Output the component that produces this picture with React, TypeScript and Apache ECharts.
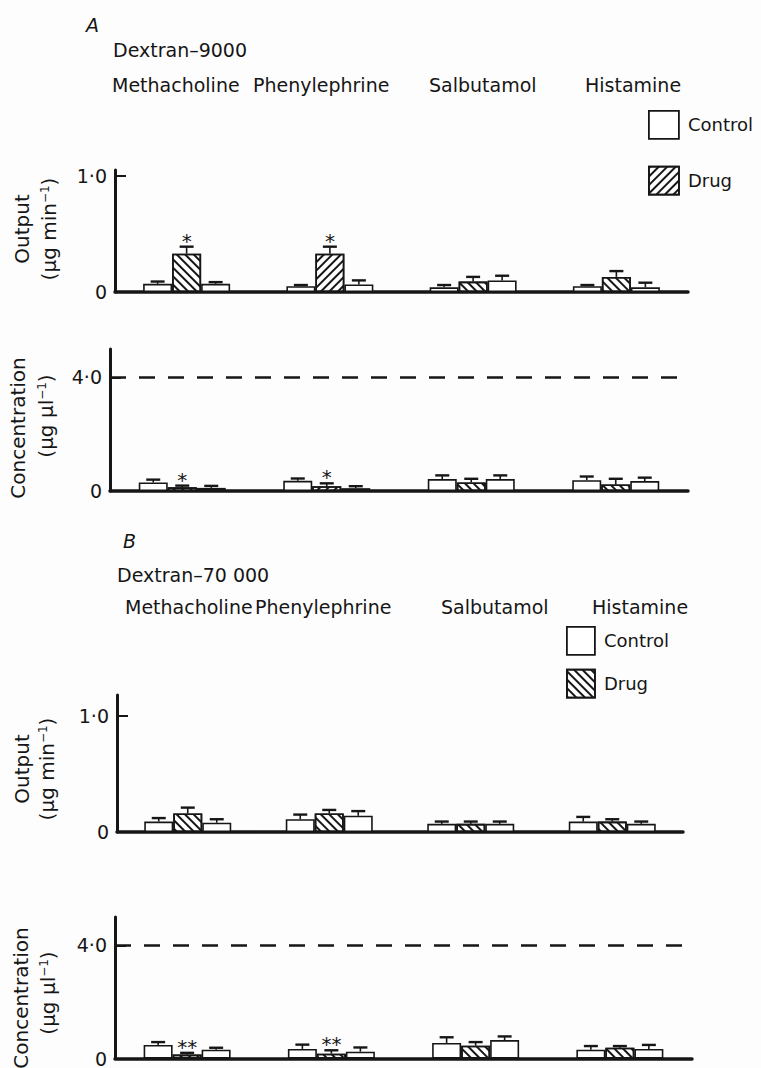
import React, { useEffect, useRef } from 'react';
import * as echarts from 'echarts';

// ---------- DATA ----------
const groups = ['Methacholine', 'Phenylephrine', 'Salbutamol', 'Histamine'];
const seriesNames = ['Control', 'Drug', 'Control (after drug)'];

// Panel A: Dextran-9000, output (µg min-1)
const aOutControl = [0.07, 0.05, 0.04, 0.05];
const aOutControlErr = [0.02, 0.01, 0.02, 0.01];
const aOutDrug = [0.33, 0.33, 0.09, 0.13];
const aOutDrugErr = [0.06, 0.06, 0.04, 0.05];
const aOutAfter = [0.07, 0.065, 0.1, 0.04];
const aOutAfterErr = [0.015, 0.035, 0.04, 0.04];
const aOutSig = ['*', '*', '', ''];

// Panel A: Dextran-9000, concentration (µg µl-1)
const aConcControl = [0.3, 0.36, 0.42, 0.38];
const aConcControlErr = [0.1, 0.08, 0.13, 0.13];
const aConcDrug = [0.13, 0.17, 0.3, 0.23];
const aConcDrugErr = [0.06, 0.1, 0.13, 0.2];
const aConcAfter = [0.11, 0.1, 0.42, 0.35];
const aConcAfterErr = [0.07, 0.07, 0.13, 0.12];
const aConcSig = ['*', '*', '', ''];

// Panel B: Dextran-70 000, output (µg min-1)
const bOutControl = [0.09, 0.11, 0.07, 0.09];
const bOutControlErr = [0.03, 0.04, 0.02, 0.04];
const bOutDrug = [0.16, 0.16, 0.07, 0.09];
const bOutDrugErr = [0.05, 0.03, 0.02, 0.02];
const bOutAfter = [0.08, 0.14, 0.07, 0.07];
const bOutAfterErr = [0.03, 0.04, 0.02, 0.02];
const bOutSig = ['', '', '', ''];

// Panel B: Dextran-70 000, concentration (µg µl-1)
const bConcControl = [0.48, 0.34, 0.55, 0.31];
const bConcControlErr = [0.1, 0.15, 0.2, 0.13];
const bConcDrug = [0.14, 0.17, 0.45, 0.38];
const bConcDrugErr = [0.06, 0.12, 0.13, 0.06];
const bConcAfter = [0.31, 0.24, 0.65, 0.34];
const bConcAfterErr = [0.07, 0.15, 0.13, 0.14];
const bConcSig = ['**', '**', '', ''];

const outTicks = [0, 1];
const concTicks = [0, 4];
const concReference = 4;

// ---------- STYLE ----------
const FONT = 'DejaVu Sans';
const INK = '#161616';
const BAR_W = 29;

const hatch = (dir: string) => ({
  symbol: 'rect',
  symbolSize: 1,
  color: INK,
  backgroundColor: '#ffffff',
  dashArrayX: [1, 0],
  dashArrayY: [2, 4],
  rotation: dir === '/' ? -Math.PI / 4 : Math.PI / 4,
});

const aHatchDir = ['\\', '/', '\\', '\\'];
const bHatchDir = ['\\', '\\', '\\', '\\'];

type Panel = {
  grid: { left: number; top: number; width: number; height: number };
  max: number;
  ticks: number[];
  values: number[][];
  errors: number[][];
  sig: string[];
  hatchDir: string[];
  refLine: boolean;
};

const panels: Panel[] = [
  {
    grid: { left: 115, top: 170, width: 573, height: 122 },
    max: 1.05,
    ticks: outTicks,
    values: [aOutControl, aOutDrug, aOutAfter],
    errors: [aOutControlErr, aOutDrugErr, aOutAfterErr],
    sig: aOutSig,
    hatchDir: aHatchDir,
    refLine: false,
  },
  {
    grid: { left: 110, top: 349, width: 578, height: 142 },
    max: 5,
    ticks: concTicks,
    values: [aConcControl, aConcDrug, aConcAfter],
    errors: [aConcControlErr, aConcDrugErr, aConcAfterErr],
    sig: aConcSig,
    hatchDir: aHatchDir,
    refLine: true,
  },
  {
    grid: { left: 117, top: 695, width: 566, height: 137 },
    max: 1.18,
    ticks: outTicks,
    values: [bOutControl, bOutDrug, bOutAfter],
    errors: [bOutControlErr, bOutDrugErr, bOutAfterErr],
    sig: bOutSig,
    hatchDir: bHatchDir,
    refLine: false,
  },
  {
    grid: { left: 115, top: 917, width: 577, height: 146 },
    max: 5,
    ticks: concTicks,
    values: [bConcControl, bConcDrug, bConcAfter],
    errors: [bConcControlErr, bConcDrugErr, bConcAfterErr],
    sig: bConcSig,
    hatchDir: bHatchDir,
    refLine: true,
  },
];

const tickLabel = (v: number) => (v === 0 ? '0' : v.toFixed(1).replace('.', '·'));

function buildOption() {
  const grids: any[] = [];
  const xAxes: any[] = [];
  const yAxes: any[] = [];
  const series: any[] = [];

  panels.forEach((p, i) => {
    grids.push({ ...p.grid, containLabel: false });
    xAxes.push({
      type: 'category',
      gridIndex: i,
      data: groups,
      boundaryGap: true,
      axisLine: { show: true, lineStyle: { color: INK, width: 3.5 } },
      axisTick: { show: false },
      axisLabel: { show: false },
      splitLine: { show: false },
    });
    yAxes.push({
      type: 'value',
      gridIndex: i,
      min: 0,
      max: p.max,
      axisLine: { show: true, lineStyle: { color: INK, width: 3 } },
      axisTick: {
        show: true,
        inside: true,
        length: 11,
        lineStyle: { color: INK, width: 2 },
        customValues: p.ticks.filter((t) => t !== 0),
      },
      axisLabel: {
        customValues: p.ticks,
        formatter: tickLabel,
        fontFamily: FONT,
        fontSize: 19,
        color: INK,
        margin: 8,
      },
      splitLine: { show: false },
    });

    p.values.forEach((vals, k) => {
      const s: any = {
        type: 'bar',
        name: seriesNames[k],
        xAxisIndex: i,
        yAxisIndex: i,
        barWidth: BAR_W,
        barGap: '0%',
        z: 2,
        itemStyle: { color: '#ffffff', borderColor: INK, borderWidth: 1.6 },
        data: vals.map((v, c) =>
          k === 1
            ? { value: v, itemStyle: { decal: hatch(p.hatchDir[c]) } }
            : { value: v }
        ),
      };
      if (k === 0 && p.refLine) {
        s.markLine = {
          silent: true,
          symbol: 'none',
          label: { show: false },
          lineStyle: { color: INK, width: 2.5, type: [16, 13] },
          data: [{ yAxis: concReference }],
        };
      }
      series.push(s);
    });

    const errData: number[][] = [];
    p.values.forEach((vals, k) => {
      vals.forEach((v, c) => errData.push([c, k, v, v + p.errors[k][c]]));
    });
    series.push({
      type: 'custom',
      xAxisIndex: i,
      yAxisIndex: i,
      z: 4,
      encode: { x: 0, y: [2, 3] },
      data: errData,
      renderItem: (_params: any, api: any) => {
        const c = api.value(0);
        const k = api.value(1);
        const base = api.coord([c, api.value(2)]);
        const top = api.coord([c, api.value(3)]);
        const x = base[0] + (k - 1) * BAR_W;
        const children: any[] = [
          { type: 'line', shape: { x1: x, y1: base[1], x2: x, y2: top[1] }, style: { stroke: INK, lineWidth: 1.6 } },
          { type: 'line', shape: { x1: x - 7, y1: top[1], x2: x + 7, y2: top[1] }, style: { stroke: INK, lineWidth: 2.4 } },
        ];
        const mark = p.sig[c];
        if (k === 1 && mark) {
          children.push({
            type: 'text',
            style: {
              x,
              y: top[1] - 6,
              text: mark,
              fill: INK,
              fontSize: 20,
              fontFamily: FONT,
              align: 'center',
              verticalAlign: 'middle',
            },
          });
        }
        return { type: 'group', children };
      },
    });
  });

  const txt = (x: number, y: number, text: string, extra: any = {}) => ({
    type: 'text',
    x,
    y,
    style: {
      text,
      fill: INK,
      fontFamily: FONT,
      fontSize: 19,
      align: 'left',
      verticalAlign: 'middle',
      ...extra,
    },
  });
  const vtxt = (x: number, y: number, text: string) => ({
    type: 'text',
    x,
    y,
    rotation: Math.PI / 2,
    style: {
      text,
      fill: INK,
      fontFamily: FONT,
      fontSize: 20,
      align: 'center',
      verticalAlign: 'middle',
      rich: {
        sup: { fontSize: 12, fontFamily: FONT, fill: INK, verticalAlign: 'top', padding: [0, 0, 6, 0] },
      },
    },
  });

  const aGroupX = [112, 253, 429, 585];
  const bGroupX = [125, 255, 441, 592];

  const graphic: any[] = [
    txt(86, 25, 'A', { fontStyle: 'italic' }),
    txt(113, 50, 'Dextran–9000'),
    ...groups.map((g, c) => txt(aGroupX[c], 85, g)),
    txt(123, 541, 'B', { fontStyle: 'italic' }),
    txt(117, 575, 'Dextran–70 000'),
    ...groups.map((g, c) => txt(bGroupX[c], 607, g)),
    vtxt(22, 229, 'Output'),
    vtxt(49, 229, '(μg min{sup|−1})'),
    vtxt(18, 428, 'Concentration'),
    vtxt(46, 416, '(μg μl{sup|−1})'),
    vtxt(22, 769, 'Output'),
    vtxt(47, 769, '(μg min{sup|−1})'),
    vtxt(21, 998, 'Concentration'),
    vtxt(48, 993, '(μg μl{sup|−1})'),
  ];

  const legendBase = {
    orient: 'vertical',
    selectedMode: false,
    padding: 0,
    icon: 'rect',
    textStyle: { fontFamily: FONT, fontSize: 18, color: INK, padding: [0, 0, 0, 4] },
    itemStyle: { borderColor: INK, borderWidth: 1.8 },
  };

  return {
    animation: false,
    backgroundColor: '#fdfdfd',
    grid: grids,
    xAxis: xAxes,
    yAxis: yAxes,
    legend: [
      {
        ...legendBase,
        left: 648,
        top: 110,
        itemWidth: 30,
        itemHeight: 28,
        itemGap: 26,
        data: [
          { name: 'Control', itemStyle: { color: '#ffffff' } },
          { name: 'Drug', itemStyle: { color: '#ffffff', decal: hatch('/') } },
        ],
      },
      {
        ...legendBase,
        left: 566,
        top: 626,
        itemWidth: 28,
        itemHeight: 28,
        itemGap: 13,
        data: [
          { name: 'Control', itemStyle: { color: '#ffffff' } },
          { name: 'Drug', itemStyle: { color: '#ffffff', decal: hatch('\\') } },
        ],
      },
    ],
    graphic,
    series,
  };
}

export default function App() {
  const ref = useRef<HTMLDivElement>(null);
  useEffect(() => {
    if (!ref.current) return;
    const chart = echarts.init(ref.current, undefined, { renderer: 'svg' });
    chart.setOption(buildOption() as any);
    return () => chart.dispose();
  }, []);
  return (
    <div
      ref={ref}
      style={{ position: 'absolute', left: 0, top: 0, width: 761, height: 1068 }}
    />
  );
}
